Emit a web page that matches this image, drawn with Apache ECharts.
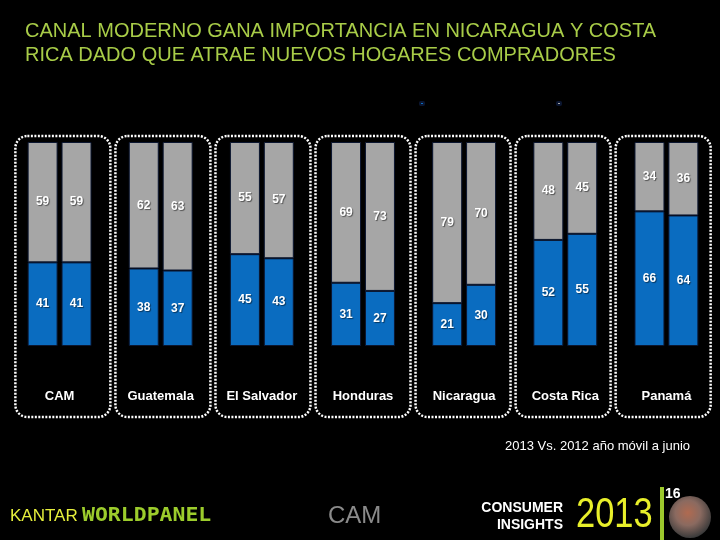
<!DOCTYPE html>
<html>
<head>
<meta charset="utf-8">
<script src="https://cdn.jsdelivr.net/npm/echarts@6/dist/echarts.min.js"></script>
<style>
html,body{margin:0;padding:0;background:#000;}
#c{width:720px;height:540px;}
</style>
</head>
<body>
<div id="c"></div>
<script>
var categories = ['CAM','Guatemala','El Salvador','Honduras','Nicaragua','Costa Rica','Panamá'];
var blue2012 = [41,38,45,31,21,52,66];
var gray2012 = [59,62,55,69,79,48,34];
var blue2013 = [41,37,43,27,30,55,64];
var gray2013 = [59,63,57,73,70,45,36];
var titleLines = ['CANAL MODERNO GANA IMPORTANCIA EN NICARAGUA Y COSTA','RICA DADO QUE ATRAE NUEVOS HOGARES COMPRADORES'];
var noteText = '2013 Vs. 2012 año móvil a junio';

var BLUE = '#0a6cc0', GRAY = '#a6a6a6';
var chart = echarts.init(document.getElementById('c'));
var lbl = {show:true, position:'inside', color:'#fff', fontFamily:'Arial, Liberation Sans, sans-serif', fontWeight:'bold', fontSize:12, textShadowColor:'rgba(0,0,0,0.5)', textShadowBlur:1, textShadowOffsetX:1, textShadowOffsetY:1};
function bar(name, data, stack, color) {
  return {name:name, type:'bar', stack:stack, data:data, barWidth:30, barGap:'13%',
    itemStyle:{color:color, borderColor:'#0b1630', borderWidth:1}, label:lbl, emphasis:{disabled:true}};
}
chart.setOption({
  backgroundColor:'#000',
  animation:false,
  title:{text:titleLines.join('\n'), left:20, top:14,
    textStyle:{color:'#a8cc48', fontFamily:'Arial, Liberation Sans, sans-serif', fontWeight:'normal', fontSize:20, lineHeight:24}},
  legend:[
    {data:[{name:'Canal moderno'}], left:414, top:96, itemWidth:4, itemHeight:3, formatter:function(){return '';}, textStyle:{fontSize:1}, selectedMode:false},
    {data:[{name:'Otros'}], left:551, top:96, itemWidth:4, itemHeight:3, formatter:function(){return '';}, textStyle:{fontSize:1}, selectedMode:false}
  ],
  grid:{left:9, right:3, top:142, bottom:194},
  xAxis:{type:'category', data:categories, axisLine:{show:false}, axisTick:{show:false},
    axisLabel:{color:'#fff', fontFamily:'Arial, Liberation Sans, sans-serif', fontWeight:'bold', fontSize:13, margin:44}},
  yAxis:{type:'value', min:0, max:100, show:false, splitLine:{show:false}},
  series:[
    bar('Canal moderno', blue2012, 'a', BLUE),
    bar('Otros', gray2012, 'a', GRAY),
    bar('Canal moderno', blue2013, 'b', BLUE),
    bar('Otros', gray2013, 'b', GRAY)
  ]
});

var g = [];
var mid = (categories.length - 1) / 2;
categories.forEach(function(c, i){
  var cx = chart.convertToPixel({xAxisIndex:0}, i);
  var bx = cx - (i - mid) * 1.1;
  g.push({type:'rect', shape:{x:bx-47.5, y:136, width:95, height:281, r:12},
    style:{fill:'none', stroke:'#fff', lineWidth:2.5, lineDash:[2,1.5]}, silent:true});
});
g.push({type:'text', right:30, top:440, style:{text:noteText, fill:'#fff', font:'13px "Liberation Sans Narrow", "Arial Narrow", Arial, sans-serif'}});
g.push({type:'text', left:10, top:508, style:{text:'KANTAR', fill:'#e6ef3c', font:'17px "Liberation Sans", Arial, sans-serif'}});
g.push({type:'text', x:82, y:507, scaleX:1.13, style:{text:'WORLDPANEL', fill:'#9ccc2c', font:'bold 19px "DejaVu Sans Mono", monospace'}});
g.push({type:'text', left:328, top:504, style:{text:'CAM', fill:'#8a8a8a', font:'24px "Liberation Sans Narrow", Arial, sans-serif'}});
g.push({type:'text', right:157, top:501, style:{text:'CONSUMER', fill:'#fff', font:'bold 14px "Liberation Sans Narrow", Arial, sans-serif', align:'right'}});
g.push({type:'text', right:157, top:518, style:{text:'INSIGHTS', fill:'#fff', font:'bold 14px "Liberation Sans Narrow", Arial, sans-serif', align:'right'}});
g.push({type:'text', x:576, y:494, scaleX:0.82, style:{text:'2013', fill:'#e8ef2a', font:'42px "Liberation Sans", Arial, sans-serif'}});
g.push({type:'circle', shape:{cx:690, cy:517, r:21}, style:{fill:{type:'radial', x:0.45, y:0.4, r:0.6, colorStops:[{offset:0,color:'#b06a50'},{offset:0.5,color:'#8a6a60'},{offset:1,color:'#3a3a3a'}]}}});
g.push({type:'rect', shape:{x:660, y:487, width:4, height:53}, style:{fill:'#9cc82c'}});
g.push({type:'text', left:665, top:487, style:{text:'16', fill:'#fff', font:'bold 14px "Liberation Sans Narrow", Arial, sans-serif'}});
chart.setOption({graphic:g});
</script>
</body>
</html>
